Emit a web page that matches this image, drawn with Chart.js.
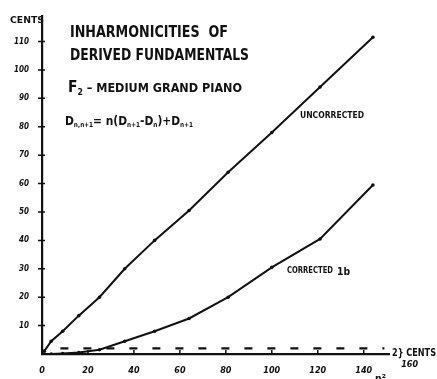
<!DOCTYPE html>
<html>
<head>
<meta charset="utf-8">
<script src="https://cdn.jsdelivr.net/npm/chart.js@4/dist/chart.umd.min.js"></script>
<style>
  html, body { margin: 0; padding: 0; background: #fff; }
  canvas { display: block; }
</style>
</head>
<body>
<canvas id="piano" width="437" height="379"></canvas>
<script>
// n squared along the bottom, inharmonicity in cents up the side
var nSquared = [1, 4, 9, 16, 25, 36, 49, 64, 81, 100, 121, 144];
var uncorrected = [1, 4.5, 8, 13.5, 20, 30, 40, 50.5, 64, 78, 94, 111.5];
var corrected = [0, 0, 0.2, 0.5, 1.5, 4.5, 8, 12.5, 20, 30.5, 40.5, 59.5];
var limitX = [8, 149];
var limitCents = [2, 2];
var xTickLabels = ['0', '20', '40', '60', '80', '100', '120', '140', '160'];
var yTickLabels = ['10', '20', '30', '40', '50', '60', '70', '80', '90', '100', '110'];

var INK = '#111';
var HAND = '"DejaVu Sans Condensed", "DejaVu Sans", sans-serif';

function pts(xs, ys) {
    return xs.map(function (x, i) { return { x: x, y: ys[i] }; });
}

// draw bold text squeezed/stretched to a given width
function fitText(ctx, text, x, y, width, size) {
    ctx.font = 'bold ' + size + 'px ' + HAND;
    var w = ctx.measureText(text).width;
    ctx.save();
    ctx.translate(x, y);
    ctx.scale(width / w, 1);
    ctx.fillText(text, 0, 0);
    ctx.restore();
}

// text made of pieces with their own size and baseline shift (subscripts)
function richText(ctx, parts, x, y, width) {
    var total = 0;
    parts.forEach(function (p) {
        ctx.font = 'bold ' + p.s + 'px ' + HAND;
        p.w = ctx.measureText(p.t).width;
        total += p.w;
    });
    ctx.save();
    ctx.translate(x, y);
    ctx.scale(width / total, 1);
    var cx = 0;
    parts.forEach(function (p) {
        ctx.font = 'bold ' + p.s + 'px ' + HAND;
        ctx.fillText(p.t, cx, p.dy || 0);
        cx += p.w;
    });
    ctx.restore();
}

var annotations = {
    id: 'annotations',
    afterDraw: function (chart) {
        var ctx = chart.ctx;
        var xs = chart.scales.x, ys = chart.scales.y;
        var ax = xs.getPixelForValue(0), ay = ys.getPixelForValue(0);
        ctx.save();
        ctx.fillStyle = INK;
        ctx.strokeStyle = INK;
        ctx.textBaseline = 'alphabetic';

        // tick marks
        ctx.lineWidth = 1.5;
        ctx.beginPath();
        for (var v = 10; v <= 110; v += 10) {
            var py = ys.getPixelForValue(v);
            ctx.moveTo(ax - 4, py); ctx.lineTo(ax + 3, py);
        }
        for (var u = 20; u <= 140; u += 20) {
            var px = xs.getPixelForValue(u);
            ctx.moveTo(px, ay); ctx.lineTo(px, ay - 4);
        }
        ctx.stroke();

        // last x label sits past the end of the axis
        ctx.font = 'bold italic 9px ' + HAND;
        ctx.textAlign = 'center';
        ctx.fillText(xTickLabels[8], xs.getPixelForValue(160), 367);
        ctx.textAlign = 'left';

        fitText(ctx, 'CENTS', 10, 23, 34, 8);
        fitText(ctx, 'INHARMONICITIES  OF', 70, 37, 158, 15);
        fitText(ctx, 'DERIVED FUNDAMENTALS', 70, 60, 179, 15);
        richText(ctx, [
            { t: 'F', s: 16 },
            { t: '2', s: 9, dy: 3 },
            { t: ' \u2013 MEDIUM GRAND PIANO', s: 13 }
        ], 68, 92, 174);
        richText(ctx, [
            { t: 'D', s: 13 },
            { t: 'n,n+1', s: 7, dy: 2 },
            { t: '= n(', s: 13 },
            { t: 'D', s: 13 },
            { t: 'n+1', s: 7, dy: 2 },
            { t: '-', s: 13 },
            { t: 'D', s: 13 },
            { t: 'n', s: 7, dy: 2 },
            { t: ')+', s: 13 },
            { t: 'D', s: 13 },
            { t: 'n+1', s: 7, dy: 2 }
        ], 65, 125, 128);

        fitText(ctx, 'UNCORRECTED', 300, 118, 64, 8);
        fitText(ctx, 'CORRECTED', 287, 273, 46, 8);
        fitText(ctx, '1b', 337, 275, 13, 11);
        fitText(ctx, '2} CENTS', 392, 356, 44, 10);
        fitText(ctx, 'n\u00b2', 375, 382, 11, 10);
        ctx.restore();
    }
};

var lineStyle = {
    borderColor: INK,
    backgroundColor: INK,
    borderWidth: 2,
    pointRadius: 1.8,
    pointBorderWidth: 0,
    pointBackgroundColor: INK,
    tension: 0,
    fill: false
};

new Chart(document.getElementById('piano'), {
    type: 'line',
    data: {
        datasets: [
            Object.assign({ label: 'Uncorrected', data: pts(nSquared, uncorrected) }, lineStyle),
            Object.assign({ label: 'Corrected 1b', data: pts(nSquared, corrected) }, lineStyle),
            {
                label: '2 cents',
                data: pts(limitX, limitCents),
                borderColor: INK,
                borderWidth: 2.2,
                borderDash: [8, 15],
                pointRadius: 0,
                fill: false
            }
        ]
    },
    options: {
        responsive: false,
        animation: false,
        layout: { padding: { top: 16, right: 48, left: 0, bottom: 0 } },
        plugins: {
            legend: { display: false },
            tooltip: { enabled: false }
        },
        scales: {
            x: {
                type: 'linear',
                min: 0,
                max: 151,
                grid: { display: false },
                border: { display: true, color: INK, width: 2.2 },
                ticks: {
                    stepSize: 20,
                    includeBounds: false,
                    padding: 3,
                    color: INK,
                    font: { family: HAND, size: 9, weight: 'bold', style: 'italic' },
                    callback: function (v) { return xTickLabels[v / 20]; }
                },
                afterFit: function (s) { s.height = 25; }
            },
            y: {
                min: 0,
                max: 119,
                grid: { display: false },
                border: { display: true, color: INK, width: 2.2 },
                ticks: {
                    stepSize: 10,
                    includeBounds: false,
                    padding: 5,
                    color: INK,
                    font: { family: HAND, size: 8, weight: 'bold', style: 'italic' },
                    callback: function (v) { return v === 0 ? '' : yTickLabels[v / 10 - 1]; }
                },
                afterFit: function (s) { s.width = 42; }
            }
        }
    },
    plugins: [annotations]
});
</script>
</body>
</html>
